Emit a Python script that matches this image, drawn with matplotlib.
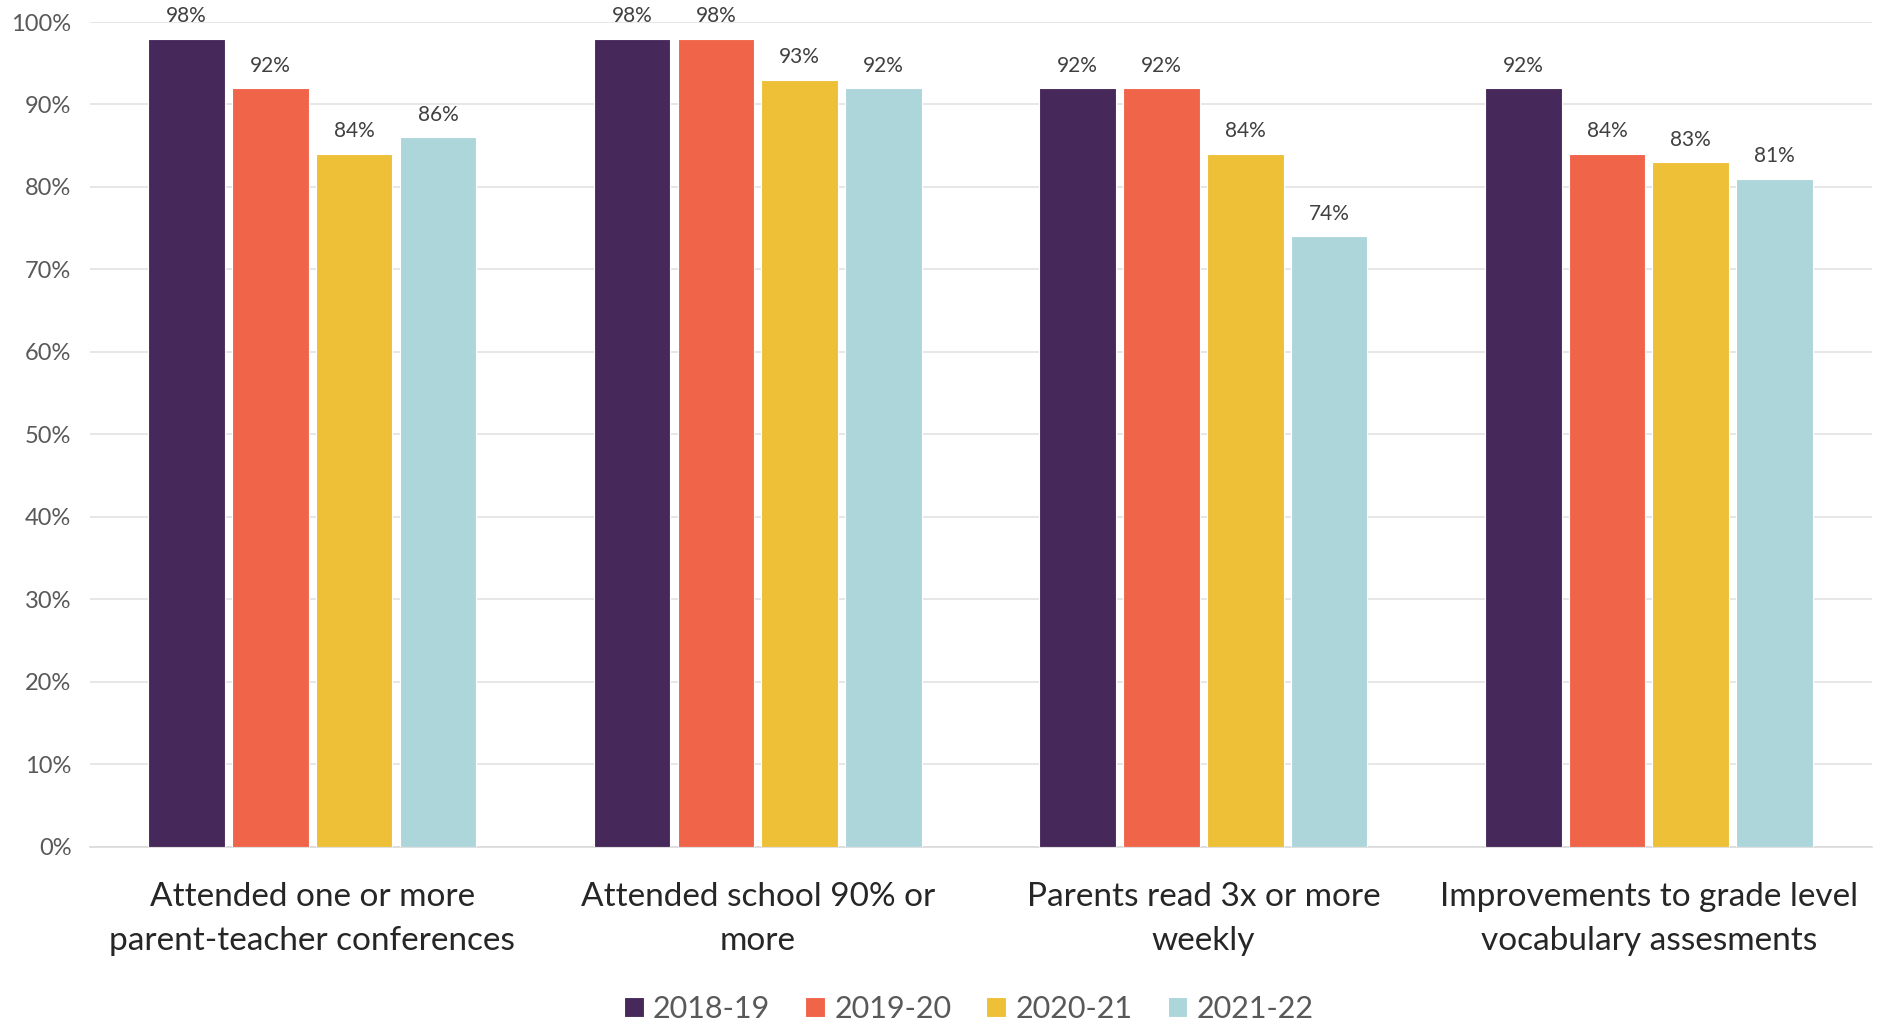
import numpy as np
import matplotlib
matplotlib.use("Agg")
import matplotlib.pyplot as plt

# Survey outcomes by school year (percent)
categories = ["Attended one or more\nparent-teacher conferences",
              "Attended school 90% or\nmore",
              "Parents read 3x or more\nweekly",
              "Improvements to grade level\nvocabulary assesments"]
years = ["2018-19", "2019-20", "2020-21", "2021-22"]
v_2018 = [98, 98, 92, 92]
v_2019 = [92, 98, 92, 84]
v_2020 = [84, 93, 84, 83]
v_2021 = [86, 92, 74, 81]
y_ticks = [0, 10, 20, 30, 40, 50, 60, 70, 80, 90, 100]

colors = ["#46295A", "#F0654A", "#EEC038", "#ADD6DA"]

plt.rcParams["font.family"] = ["Lato", "DejaVu Sans"]

fig = plt.figure(figsize=(18.81, 10.24), dpi=100)
ax = fig.add_axes([0.0476, 0.173, 0.9474, 0.8055])

x = np.arange(len(categories))
width = 0.172
step = 0.188
series = [v_2018, v_2019, v_2020, v_2021]
for i, (vals, name) in enumerate(zip(series, years)):
    offs = (i - 1.5) * step
    bars = ax.bar(x + offs, vals, width, color=colors[i], label=name,
                  edgecolor="white", linewidth=0.8, zorder=3)
    for b, v in zip(bars, vals):
        ax.annotate("%d%%" % v, (b.get_x() + b.get_width() / 2, v),
                    xytext=(0, 9), textcoords="offset points",
                    ha="center", va="bottom", fontsize=15, color="#404040")

ax.set_xlim(-0.5, len(categories) - 0.5)
ax.set_ylim(0, 100)
ax.set_yticks(y_ticks)
ax.set_yticklabels(["%d%%" % t for t in y_ticks], fontsize=17, color="#595959")
ax.set_xticks(x)
ax.set_xticklabels(categories, fontsize=24, color="#262626", linespacing=1.6)
ax.tick_params(axis="both", length=0)
ax.tick_params(axis="x", pad=25)
ax.tick_params(axis="y", pad=13)
ax.grid(axis="y", color="#E3E3E3", linewidth=1.2, zorder=0)
for s in ["top", "right", "left"]:
    ax.spines[s].set_visible(False)
ax.spines["bottom"].set_color("#D9D9D9")
ax.spines["bottom"].set_linewidth(1.2)

fig.legend(loc="center", bbox_to_anchor=(0.515, 0.015), ncol=4, frameon=False,
           fontsize=22, handlelength=0.65, handleheight=0.65, handletextpad=0.3,
           columnspacing=1.15, labelcolor="#595959")

fig.savefig("out.png", dpi=100)
